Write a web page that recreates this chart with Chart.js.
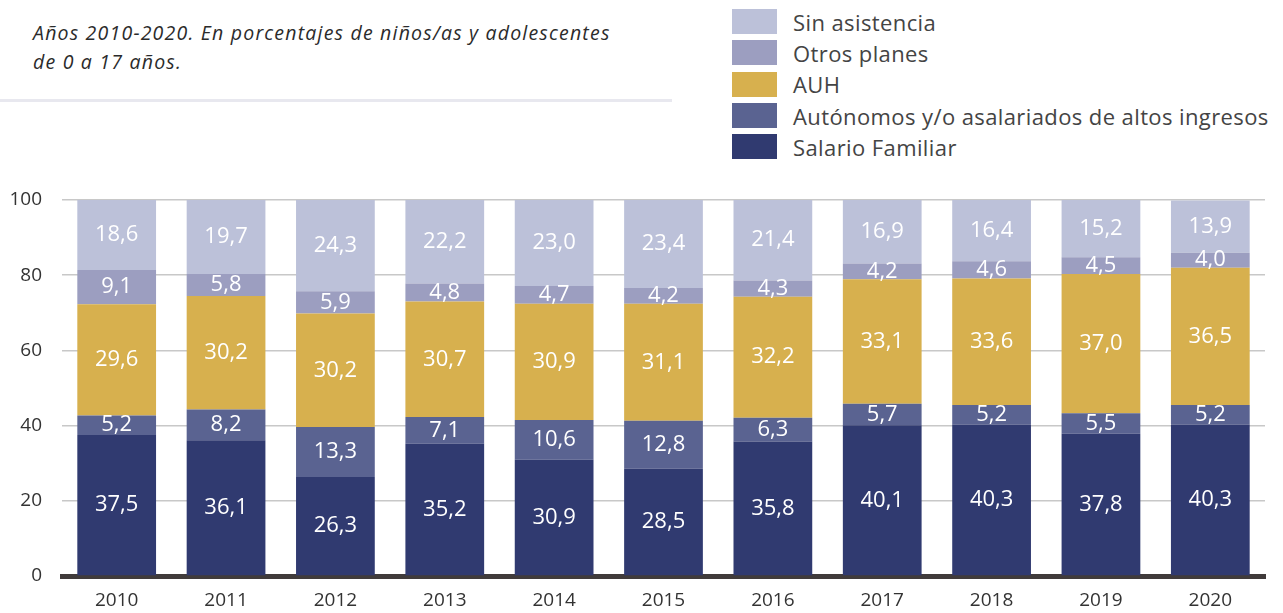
<!DOCTYPE html>
<html>
<head>
<meta charset="utf-8">
<script src="https://cdn.jsdelivr.net/npm/chart.js@4"></script>
<style>
  body { margin: 0; background: #fff; font-family: "Open Sans", sans-serif; }
  #wrap { position: relative; width: 1283px; height: 613px; }
  #sub { position: absolute; left: 33px; top: 18px; font-size: 19.5px; letter-spacing: 1.2px; font-style: italic; color: #2b2b2b; line-height: 29px; }
  #rule { position: absolute; left: 0; top: 99px; width: 672px; height: 3px; background: #e8e8ef; }
  #legend { position: absolute; left: 732px; top: 6px; }
  .item { height: 31.3px; display: flex; align-items: center; font-size: 22px; letter-spacing: 0.4px; color: #444; }
  .sw { width: 45px; height: 25px; margin-right: 16px; }
  canvas { position: absolute; left: 0; top: 0; }
</style>
</head>
<body>
<div id="wrap">
  <div id="sub">Años 2010-2020. En porcentajes de niños/as y adolescentes<br>de 0 a 17 años.</div>
  <div id="rule"></div>
  <div id="legend"></div>
  <canvas id="chart" width="1283" height="613"></canvas>
</div>
<script>
// categories
var years = ['2010', '2011', '2012', '2013', '2014', '2015', '2016', '2017', '2018', '2019', '2020'];

// series (bottom to top)
var salarioFamiliar = [37.5, 36.1, 26.3, 35.2, 30.9, 28.5, 35.8, 40.1, 40.3, 37.8, 40.3];
var autonomos = [5.2, 8.2, 13.3, 7.1, 10.6, 12.8, 6.3, 5.7, 5.2, 5.5, 5.2];
var auh = [29.6, 30.2, 30.2, 30.7, 30.9, 31.1, 32.2, 33.1, 33.6, 37.0, 36.5];
var otrosPlanes = [9.1, 5.8, 5.9, 4.8, 4.7, 4.2, 4.3, 4.2, 4.6, 4.5, 4.0];
var sinAsistencia = [18.6, 19.7, 24.3, 22.2, 23.0, 23.4, 21.4, 16.9, 16.4, 15.2, 13.9];

// y ticks
var yTicks = [0, 20, 40, 60, 80, 100];

var series = [
  { label: 'Salario Familiar', data: salarioFamiliar, color: '#303a70' },
  { label: 'Autónomos y/o asalariados de altos ingresos', data: autonomos, color: '#5a6391' },
  { label: 'AUH', data: auh, color: '#d7b04e' },
  { label: 'Otros planes', data: otrosPlanes, color: '#9c9ec0' },
  { label: 'Sin asistencia', data: sinAsistencia, color: '#bcc1d9' }
];

// html legend, top item is the top of the stack
var legendEl = document.getElementById('legend');
series.slice().reverse().forEach(function (s) {
  var row = document.createElement('div');
  row.className = 'item';
  row.innerHTML = '<div class="sw" style="background:' + s.color + '"></div>' + s.label;
  legendEl.appendChild(row);
});

// writes the value in the middle of every segment
var valueLabels = {
  id: 'valueLabels',
  afterDatasetsDraw: function (chart) {
    var ctx = chart.ctx;
    ctx.save();
    ctx.fillStyle = '#fff';
    ctx.font = '22px "Open Sans"';
    ctx.textAlign = 'center';
    ctx.textBaseline = 'middle';
    chart.data.datasets.forEach(function (ds, i) {
      chart.getDatasetMeta(i).data.forEach(function (bar, j) {
        var mid = (bar.y + bar.base) / 2;
        ctx.fillText(ds.data[j].toFixed(1).replace('.', ','), bar.x, mid);
      });
    });
    ctx.restore();
  }
};

var ctx = document.getElementById('chart').getContext('2d');
var chart = new Chart(ctx, {
  type: 'bar',
  data: {
    labels: years,
    datasets: series.map(function (s) {
      return {
        label: s.label,
        data: s.data,
        backgroundColor: s.color,
        barPercentage: 0.72,
        categoryPercentage: 1
      };
    })
  },
  options: {
    responsive: false,
    animation: false,
    layout: { padding: { top: 200, right: 18, left: 0, bottom: 0 } },
    plugins: { legend: { display: false }, tooltip: { enabled: false } },
    scales: {
      x: {
        stacked: true,
        grid: { display: false },
        border: { display: true, color: '#403b3b', width: 5 },
        ticks: { color: '#333', font: { family: 'Open Sans', size: 19 }, padding: 5 },
        afterFit: function (axis) { axis.height = 37; }
      },
      y: {
        stacked: true,
        min: 0,
        max: 100,
        afterBuildTicks: function (axis) {
          axis.ticks = yTicks.map(function (v) { return { value: v }; });
        },
        grid: {
          color: function (c) { return c.tick.value === 0 ? 'rgba(0,0,0,0)' : '#c8c8c8'; },
          lineWidth: 1.5,
          drawTicks: false
        },
        border: { display: false },
        ticks: { color: '#333', font: { family: 'Open Sans', size: 19 }, padding: 20 },
        afterFit: function (axis) { axis.width = 62; }
      }
    }
  },
  plugins: [valueLabels]
});
</script>
</body>
</html>
